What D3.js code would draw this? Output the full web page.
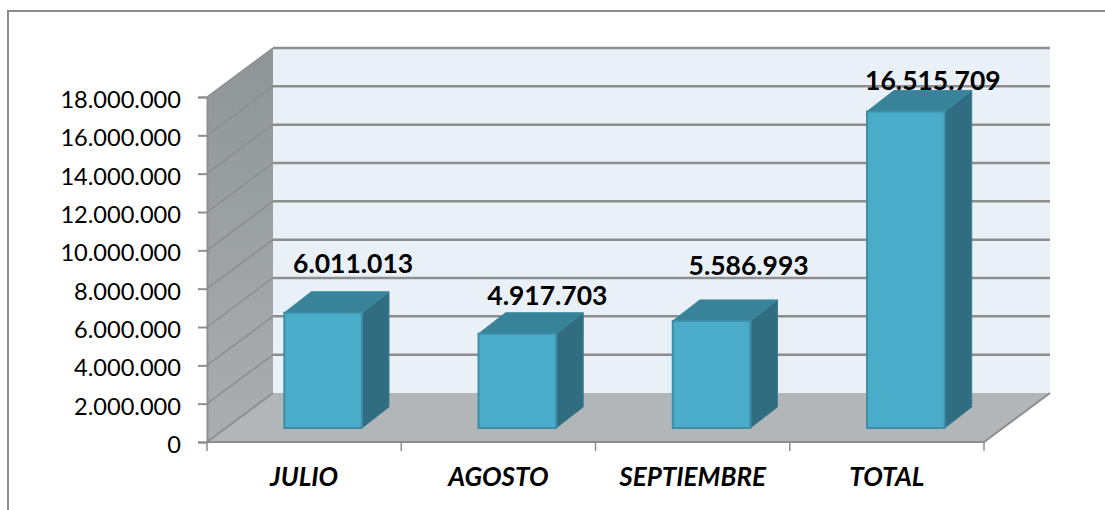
<!DOCTYPE html>
<html>
<head>
<meta charset="utf-8">
<script src="https://cdn.jsdelivr.net/npm/d3@7"></script>
<style>
  html, body { margin: 0; padding: 0; background: #fff; }
  svg { display: block; }
  text { font-family: Lato, "Open Sans", sans-serif; fill: #000; }
</style>
</head>
<body>
<div id="chart"></div>
<script>
var categories = ["JULIO", "AGOSTO", "SEPTIEMBRE", "TOTAL"];
var values = [6011013, 4917703, 5586993, 16515709];
var valueLabels = ["6.011.013", "4.917.703", "5.586.993", "16.515.709"];
var yTicks = [0, 2000000, 4000000, 6000000, 8000000, 10000000, 12000000, 14000000, 16000000, 18000000];

// data labels were dragged by hand in the original, so each has its own shift
var labelShiftX = [30, 30, 37, 27];
var labelShiftY = [-26, -15, -32, -7];

function init() {
    var w = 1105;
    var h = 510;

    var x0 = 207, x1 = 984;   // front edge of the floor
    var y0 = 442, y1 = 97;    // front edge of the side wall
    var depthX = 66, depthY = -49;
    var barFrontX = 19, barFrontY = -14;
    var barDepthX = 27, barDepthY = -21;

    var lineColor = "#8e8e8e";

    var x = d3.scaleBand().domain(categories).range([x0, x1]).paddingInner(0.6).paddingOuter(0.3);
    var y = d3.scaleLinear().domain([0, 18000000]).range([y0, y1]);

    var fmt = d3.formatLocale({ decimal: ",", thousands: ".", grouping: [3], currency: ["", ""] }).format(",d");

    var svg = d3.select("#chart")
        .append("svg")
        .attr("width", w)
        .attr("height", h);

    // outer frame, only top and left show in the picture
    svg.append("path")
        .attr("d", "M8," + h + "V11H" + w)
        .attr("fill", "none")
        .attr("stroke", "#8c8c8c")
        .attr("stroke-width", 2);

    var defs = svg.append("defs");
    var grad = defs.append("linearGradient")
        .attr("id", "sideWall")
        .attr("x1", 0).attr("x2", 0).attr("y1", 0).attr("y2", 1);
    grad.append("stop").attr("offset", "0%").attr("stop-color", "#8f9597");
    grad.append("stop").attr("offset", "100%").attr("stop-color", "#abaeb0");

    // back wall
    svg.append("rect")
        .attr("x", x0 + depthX)
        .attr("y", y1 + depthY)
        .attr("width", x1 - x0)
        .attr("height", y0 - y1)
        .attr("fill", "#e9f0f7");

    // side wall
    svg.append("path")
        .attr("d", d3.line()([[x0, y0], [x0, y1], [x0 + depthX, y1 + depthY], [x0 + depthX, y0 + depthY]]))
        .attr("fill", "url(#sideWall)");

    // floor
    svg.append("path")
        .attr("d", d3.line()([[x0, y0], [x1, y0], [x1 + depthX, y0 + depthY], [x0 + depthX, y0 + depthY]]))
        .attr("fill", "#b2b6b9");

    // grid on back wall and side wall
    var gridTicks = yTicks.filter(function(d) { return d > 0; });
    svg.selectAll(".gridBack")
        .data(gridTicks)
        .enter()
        .append("line")
        .attr("class", "gridBack")
        .attr("x1", x0 + depthX)
        .attr("x2", x1 + depthX)
        .attr("y1", function(d) { return y(d) + depthY; })
        .attr("y2", function(d) { return y(d) + depthY; })
        .attr("stroke", lineColor)
        .attr("stroke-width", 2.5);

    svg.selectAll(".gridSide")
        .data(gridTicks)
        .enter()
        .append("line")
        .attr("class", "gridSide")
        .attr("x1", x0)
        .attr("x2", x0 + depthX)
        .attr("y1", function(d) { return y(d); })
        .attr("y2", function(d) { return y(d) + depthY; })
        .attr("stroke", lineColor)
        .attr("stroke-width", 1.5);

    // floor edges
    svg.append("path")
        .attr("d", d3.line()([[x0 + depthX, y0 + depthY], [x0, y0], [x1, y0], [x1 + depthX, y0 + depthY]]))
        .attr("fill", "none")
        .attr("stroke", lineColor)
        .attr("stroke-width", 2);

    // axes
    var yAxis = svg.append("g")
        .attr("transform", "translate(" + x0 + ",0)")
        .call(d3.axisLeft(y).tickValues(yTicks).tickSize(9).tickPadding(17).tickFormat(fmt));
    yAxis.selectAll("text")
        .attr("y", 3)
        .style("font-size", "23.6px");

    var xAxis = svg.append("g")
        .attr("transform", "translate(0," + y0 + ")")
        .call(d3.axisBottom(x).tickSize(0).tickPadding(26));
    xAxis.selectAll("text")
        .style("font-size", "26px")
        .style("font-weight", "bold")
        .style("font-style", "italic");

    svg.selectAll("g .domain").attr("stroke", lineColor).attr("stroke-width", 2);
    xAxis.select(".domain").remove();
    svg.selectAll("g .tick line").attr("stroke", lineColor).attr("stroke-width", 2);

    var catTicks = [0, 1, 2, 3, 4].map(function(i) { return x0 + i * x.step(); });
    svg.selectAll(".catTick")
        .data(catTicks)
        .enter()
        .append("line")
        .attr("class", "catTick")
        .attr("x1", function(d) { return d; })
        .attr("x2", function(d) { return d; })
        .attr("y1", y0)
        .attr("y2", y0 + 9)
        .attr("stroke", lineColor)
        .attr("stroke-width", 1.5);

    // bars
    var bars = svg.selectAll(".bar")
        .data(categories)
        .enter()
        .append("g")
        .attr("class", "bar")
        .attr("transform", "translate(" + barFrontX + "," + barFrontY + ")");

    function left(d) { return x(d); }
    function right(d) { return x(d) + x.bandwidth(); }
    function top(d, i) { return y(values[i]); }

    bars.append("path")
        .attr("d", function(d, i) {
            return d3.line()([[right(d), y0], [right(d), top(d, i)],
                [right(d) + barDepthX, top(d, i) + barDepthY], [right(d) + barDepthX, y0 + barDepthY]]) + "Z";
        })
        .attr("fill", "#316d80")
        .attr("stroke", "#3a7d90")
        .attr("stroke-width", 1);

    bars.append("path")
        .attr("d", function(d, i) {
            return d3.line()([[left(d), top(d, i)], [right(d), top(d, i)],
                [right(d) + barDepthX, top(d, i) + barDepthY], [left(d) + barDepthX, top(d, i) + barDepthY]]) + "Z";
        })
        .attr("fill", "#38829a")
        .attr("stroke", "#3b8aa0")
        .attr("stroke-width", 1);

    bars.append("rect")
        .attr("x", left)
        .attr("y", top)
        .attr("width", x.bandwidth())
        .attr("height", function(d, i) { return y0 - top(d, i); })
        .attr("fill", "#4bacc9")
        .attr("stroke", "#3d8ea6")
        .attr("stroke-width", 2);

    // value labels
    svg.selectAll(".valueLabel")
        .data(valueLabels)
        .enter()
        .append("text")
        .attr("class", "valueLabel")
        .attr("text-anchor", "middle")
        .attr("x", function(d, i) { return x(categories[i]) + x.bandwidth() / 2 + barFrontX + labelShiftX[i]; })
        .attr("y", function(d, i) { return y(values[i]) + barFrontY + labelShiftY[i] + barFrontY; })
        .style("font-size", "26.5px")
        .style("font-weight", "bold")
        .text(function(d) { return d; });
}

window.onload = init;
</script>
</body>
</html>
